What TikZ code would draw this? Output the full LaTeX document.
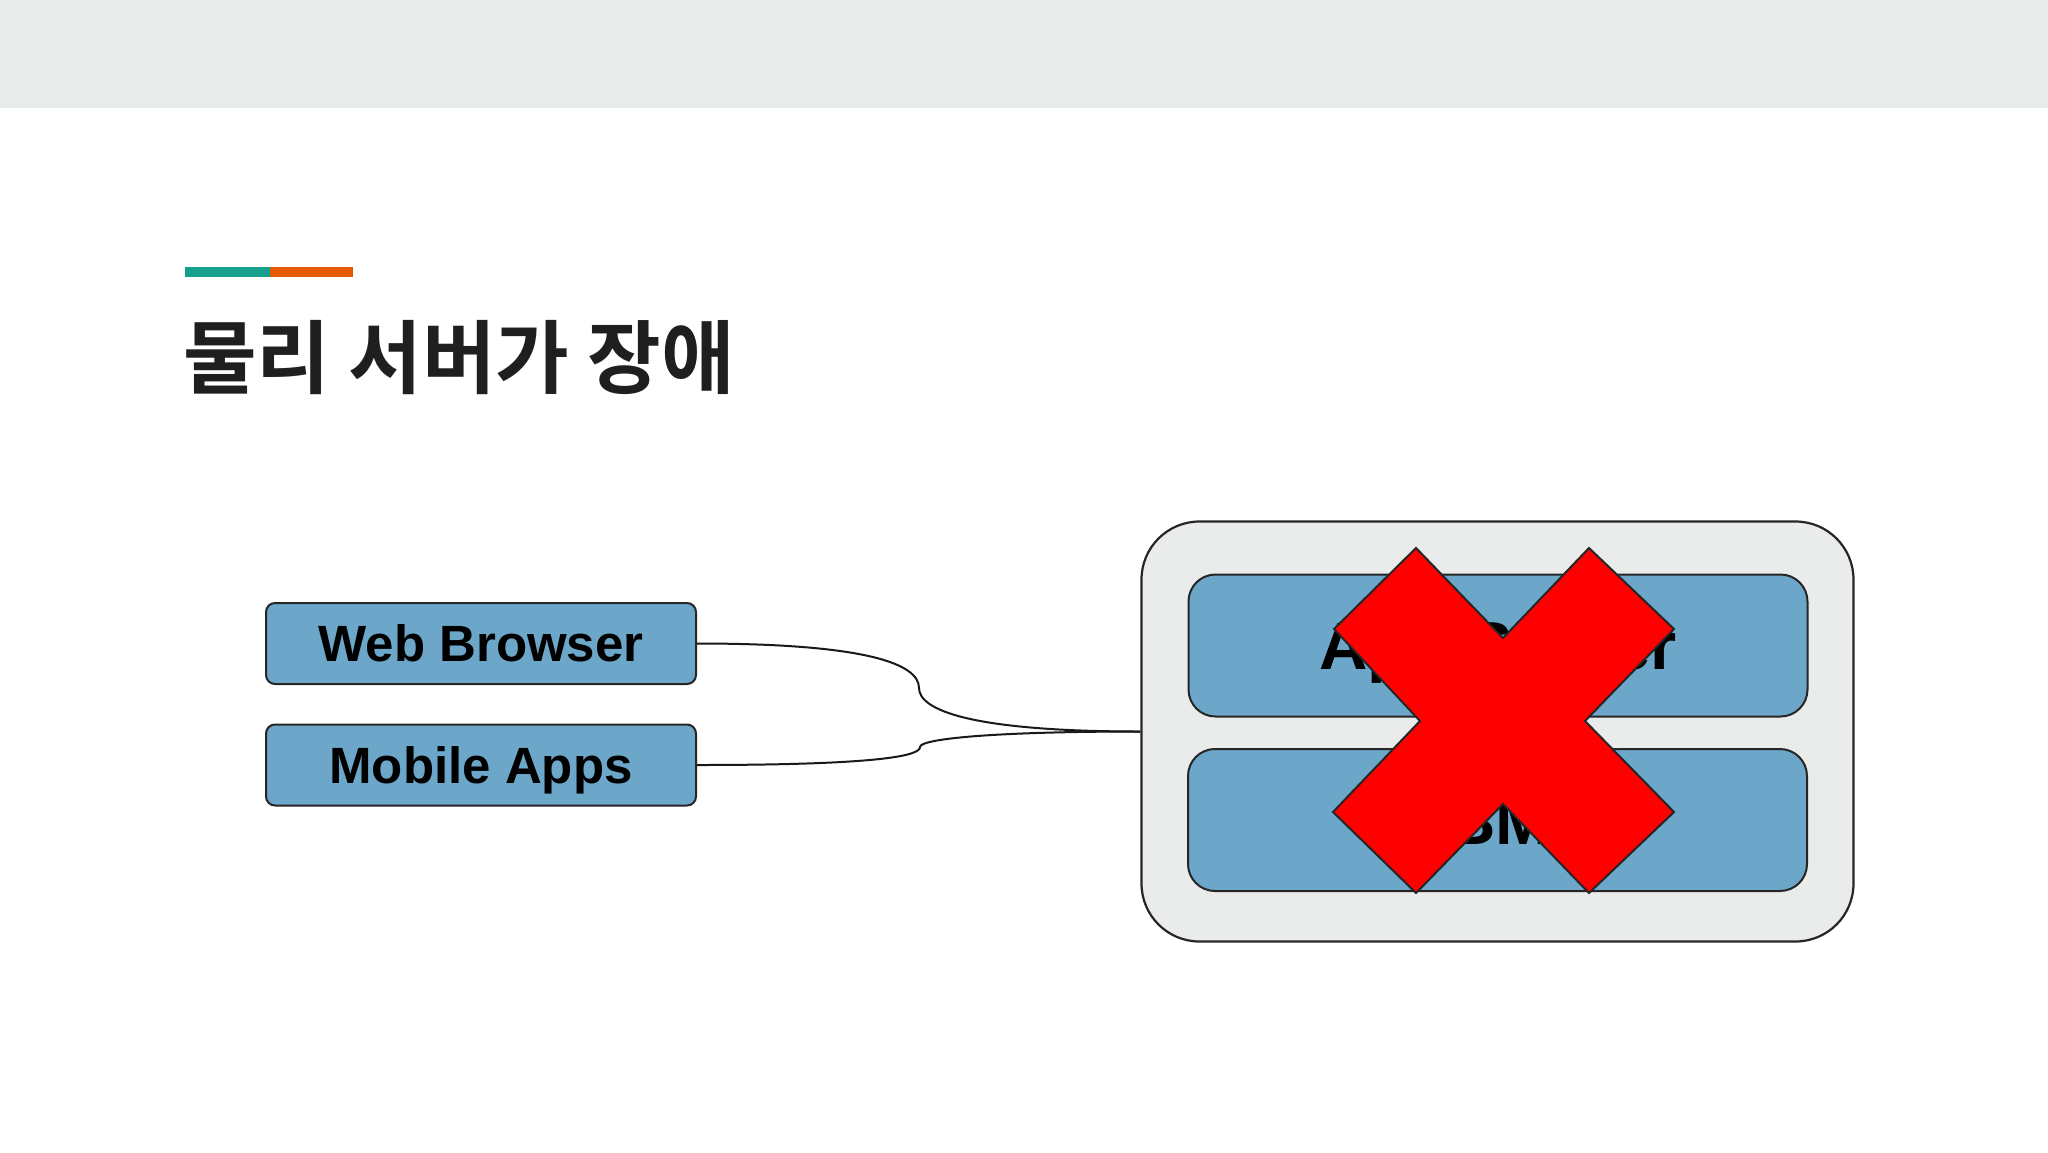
\documentclass[tikz,border=0pt]{standalone}
\usepackage{fontspec}
\setmainfont{Liberation Sans}
\newfontfamily\krfont[RawFeature=+palt]{Noto Sans CJK KR Bold}
\definecolor{topbar}{HTML}{E8EDEC}
\definecolor{teal}{HTML}{17A08C}
\definecolor{orng}{HTML}{E65A06}
\definecolor{boxblue}{HTML}{6CA6C8}
\definecolor{srvgray}{HTML}{E9ECEB}
\definecolor{xred}{HTML}{FF0000}
\tikzset{
  client/.style={draw=black!85, line width=2pt, fill=boxblue, rounded corners=9pt,
    minimum width=430pt, minimum height=81pt, inner sep=0pt,
    text height=36.5pt, text depth=0pt,
    font=\fontsize{51}{60}\selectfont\bfseries},
  inner/.style={draw=black!85, line width=2pt, fill=boxblue, rounded corners=27pt,
    minimum width=619pt, minimum height=142pt, inner sep=0pt,
    text height=48pt, text depth=0pt,
    font=\fontsize{67}{76}\selectfont\bfseries},
  outerbox/.style={draw=black!85, line width=2.2pt, fill=srvgray, rounded corners=58pt,
    minimum width=712pt, minimum height=420pt, inner sep=0pt},
  conn/.style={draw=black!90, line width=2pt},
}
\begin{document}
\begin{tikzpicture}[x=1pt,y=-1pt]
\useasboundingbox (0,0) rectangle (2048,1152);
\fill[white] (0,0) rectangle (2048,1152);
\fill[topbar] (0,0) rectangle (2048,108);
\fill[teal] (185,267) rectangle (270,277);
\fill[orng] (270,267) rectangle (353,277);
\node[anchor=base west, inner sep=0pt, text=black!88, font=\krfont\fontsize{80}{90}\selectfont] (title) at (183,387) {물리 서버가 장애};

\node[client] (wb) at (481,643.5) {Web Browser};
\node[client] (ma) at (481,765) {Mobile Apps};

\node[outerbox] (srv) at (1497.5,731.5) {};
\node[inner] (as) at (1498,645.5) {App Server};
\node[inner] (db) at (1497.5,820) {DBMS};

\coordinate (c1) at (919,688);
\coordinate (c2) at (920,747);
\draw[conn] (wb.east) .. controls +(170,0) and +(0,-24) .. (c1) .. controls +(0,22) and +(-170,0) .. (srv.west);
\draw[conn] (ma.east) .. controls +(190,0) and +(0,8) .. (c2) .. controls +(0,-8) and +(-150,0) .. (srv.west);

\draw[line width=2pt, draw=black!85, fill=xred, line join=miter]
  (1416,548) -- (1503,638) -- (1589,548) -- (1674,629) -- (1585,721) -- (1674,812)
  -- (1589,893) -- (1503,804) -- (1416,893) -- (1333,812) -- (1420,721) -- (1334,629) -- cycle;
\end{tikzpicture}
\end{document}
